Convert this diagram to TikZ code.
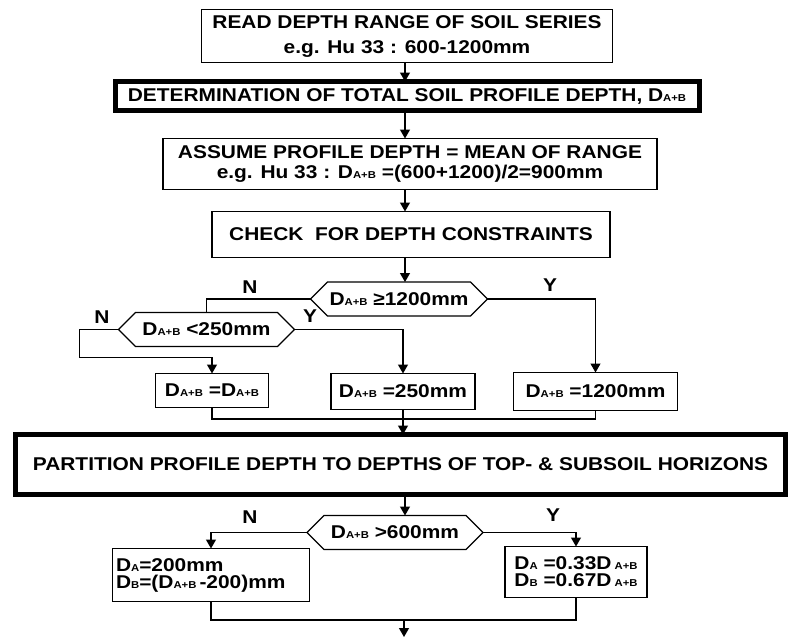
\documentclass[tikz,border=0pt]{standalone}
\usepackage{fontspec}
\setmainfont{Liberation Sans}[FakeStretch=1.13]
\usetikzlibrary{arrows.meta,positioning,calc,shapes.symbols}
\newcommand{\smallsub}[1]{{\fontsize{10}{10}\selectfont #1}}
\newcommand{\dAB}{D\smallsub{A+B}}
\newcommand{\dA}{D\smallsub{A}}
\newcommand{\dB}{D\smallsub{B}}

\begin{document}
\begin{tikzpicture}[x=1pt, y=-1pt,
    box/.style={draw, line width=1.2pt, outer sep=0pt, inner sep=2pt, align=center, font=\bfseries\fontsize{18.5}{25}\selectfont},
    bigbox/.style={box, line width=5pt},
    hexbox/.style={box, shape=signal, signal to=east and west, signal pointer angle=90, minimum width=176pt, minimum height=34pt},
    eqbox/.style={box, align=left, font=\bfseries\fontsize{18.5}{17}\selectfont},
    arr/.style={-{Triangle[length=9pt,width=10pt]}, line width=1.2pt},
    wire/.style={line width=1.2pt},
    lab/.style={font=\bfseries\fontsize{18.5}{20}\selectfont, inner sep=0pt}
  ]
    \useasboundingbox (0,0) rectangle (790,638);
    \coordinate (spine) at (405,0);
    % depth of the whole profile
    \node[box, minimum width=411pt, minimum height=53pt] (read) at (407,36) {READ DEPTH RANGE OF SOIL SERIES\\e.g. Hu 33 : 600-1200mm};
    \node[bigbox, minimum width=584pt, minimum height=29pt, below=19pt of read] (determ) {DETERMINATION OF TOTAL SOIL PROFILE DEPTH, \dAB};
    \node[box, minimum width=494pt, minimum height=51pt, below=28pt of determ, xshift=3pt, font=\bfseries\fontsize{18.5}{20}\selectfont] (assume) {ASSUME PROFILE DEPTH = MEAN OF RANGE\\e.g. Hu 33 : \dAB\ =(600+1200)/2=900mm};
    \node[box, minimum width=398pt, minimum height=46pt, below=22pt of assume, xshift=1pt] (check) {CHECK \ FOR DEPTH CONSTRAINTS};
    \node[hexbox] (hex1) at (399,299) {\dAB\ ≥1200mm};
    \node[hexbox] (hex2) at (206.5,329.5) {\dAB\ <250mm};
    \node[box, minimum width=113pt, minimum height=34pt] (boxL) at (212,390.5) {\dAB\ =\dAB};
    \node[box, minimum width=144pt, minimum height=36pt] (boxM) at (403,391.5) {\dAB\ =250mm};
    \node[box, minimum width=164pt, minimum height=38pt] (boxR) at (595.5,391.5) {\dAB\ =1200mm};
    \node[lab] (n1) at (250,287) {N};
    \node[lab] (y1) at (550,285) {Y};
    \node[lab] (n2) at (102,317) {N};
    \node[lab] (y2) at (310,316) {Y};
    % split into top- and subsoil
    \node[bigbox, minimum width=770pt, minimum height=60pt] (part) at (400.5,464.5) {PARTITION PROFILE DEPTH TO DEPTHS OF TOP- \& SUBSOIL HORIZONS};
    \node[hexbox] (hex3) at (395,532.5) {\dAB\ >600mm};
    \node[eqbox, minimum width=197pt, minimum height=53pt, text width=190pt] (boxA) at (211,575) {\dA=200mm\\\dB=(\dAB\,-200)mm};
    \node[eqbox, minimum width=142pt, minimum height=51pt] (boxB) at (576,572) {\dA\ =0.33D\,\smallsub{A+B}\\\dB\ =0.67D\,\smallsub{A+B}};
    \node[lab] (n3) at (250,517) {N};
    \node[lab] (y3) at (553,515) {Y};
    \coordinate (joinA) at (405,419);
    \coordinate (joinB) at (404,620);
    \coordinate (out) at (404,637);

    \draw[arr] (read.south -| spine) -- (determ.north -| spine);
    \draw[arr] (determ.south -| spine) -- (assume.north -| spine);
    \draw[arr] (assume.south -| spine) -- (check.north -| spine);
    \draw[arr] (check.south -| spine) -- (hex1.north -| spine);
    \draw[wire] (hex1.west) -| (hex2.north);
    \draw[arr] (hex1.east) -| (boxR.north);
    \draw[arr] (hex2.west) -- ++(-39,0) |- ($(boxL.north)+(0,-16)$) -- (boxL.north);
    \draw[arr] (hex2.east) -| (boxM.north);
    \draw[wire] (boxL.south) |- (joinA) -| (boxR.south);
    \draw[arr] (boxM.south) -- (boxM.south |- part.north);
    \draw[arr] (part.south -| spine) -- (hex3.north -| spine);
    \draw[arr] (hex3.west) -| (boxA.north);
    \draw[arr] (hex3.east) -| (boxB.north);
    \draw[wire] (boxA.south) |- (joinB) -| (boxB.south);
    \draw[arr] (joinB) -- (out);
  \end{tikzpicture}
\end{document}
